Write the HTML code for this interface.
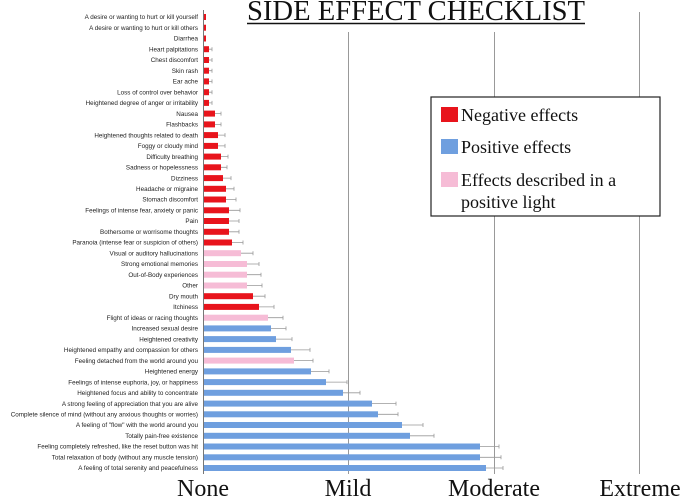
<!DOCTYPE html>
<html><head><meta charset="utf-8"><style>body{margin:0;background:#fff}svg{display:block}</style></head><body>
<svg width="680" height="498" xmlns="http://www.w3.org/2000/svg">
<rect width="680" height="498" fill="#fff"/>
<text x="247" y="20" font-family="Liberation Serif, serif" font-size="29" textLength="338" lengthAdjust="spacingAndGlyphs" fill="#111">SIDE EFFECT CHECKLIST</text>
<line x1="247" y1="23.5" x2="585" y2="23.5" stroke="#111" stroke-width="1.5"/>
<g stroke="#999" stroke-width="1">
<line x1="348.5" y1="32" x2="348.5" y2="474"/>
<line x1="494.5" y1="32" x2="494.5" y2="474"/>
<line x1="639.5" y1="12" x2="639.5" y2="474"/>
</g>
<line x1="203.5" y1="10" x2="203.5" y2="474" stroke="#777"/>
<g font-family="Liberation Sans, sans-serif" font-size="6.3" fill="#222" text-anchor="end">
<g transform="translate(0,17)"><rect x="204" y="-3" width="2" height="6" fill="#e8141c"/><text x="198" y="2.2">A desire or wanting to hurt or kill yourself</text></g>
<g transform="translate(0,27.7)"><rect x="204" y="-3" width="2" height="6" fill="#e8141c"/><text x="198" y="2.2">A desire or wanting to hurt or kill others</text></g>
<g transform="translate(0,38.5)"><rect x="204" y="-3" width="2" height="6" fill="#e8141c"/><text x="198" y="2.2">Diarrhea</text></g>
<g transform="translate(0,49.2)"><rect x="204" y="-3" width="5" height="6" fill="#e8141c"/><path d="M209 0H212M212 -2V2" stroke="#999" stroke-width="0.8"/><text x="198" y="2.2">Heart palpitations</text></g>
<g transform="translate(0,60)"><rect x="204" y="-3" width="5" height="6" fill="#e8141c"/><path d="M209 0H212M212 -2V2" stroke="#999" stroke-width="0.8"/><text x="198" y="2.2">Chest discomfort</text></g>
<g transform="translate(0,70.7)"><rect x="204" y="-3" width="5" height="6" fill="#e8141c"/><path d="M209 0H212M212 -2V2" stroke="#999" stroke-width="0.8"/><text x="198" y="2.2">Skin rash</text></g>
<g transform="translate(0,81.4)"><rect x="204" y="-3" width="5" height="6" fill="#e8141c"/><path d="M209 0H212M212 -2V2" stroke="#999" stroke-width="0.8"/><text x="198" y="2.2">Ear ache</text></g>
<g transform="translate(0,92.2)"><rect x="204" y="-3" width="5" height="6" fill="#e8141c"/><path d="M209 0H212M212 -2V2" stroke="#999" stroke-width="0.8"/><text x="198" y="2.2">Loss of control  over behavior</text></g>
<g transform="translate(0,102.9)"><rect x="204" y="-3" width="5" height="6" fill="#e8141c"/><path d="M209 0H212M212 -2V2" stroke="#999" stroke-width="0.8"/><text x="198" y="2.2">Heightened degree of anger or irritability</text></g>
<g transform="translate(0,113.6)"><rect x="204" y="-3" width="11" height="6" fill="#e8141c"/><path d="M215 0H221M221 -2V2" stroke="#999" stroke-width="0.8"/><text x="198" y="2.2">Nausea</text></g>
<g transform="translate(0,124.4)"><rect x="204" y="-3" width="11" height="6" fill="#e8141c"/><path d="M215 0H221M221 -2V2" stroke="#999" stroke-width="0.8"/><text x="198" y="2.2">Flashbacks</text></g>
<g transform="translate(0,135.1)"><rect x="204" y="-3" width="14" height="6" fill="#e8141c"/><path d="M218 0H225M225 -2V2" stroke="#999" stroke-width="0.8"/><text x="198" y="2.2">Heightened thoughts related to death</text></g>
<g transform="translate(0,145.9)"><rect x="204" y="-3" width="14" height="6" fill="#e8141c"/><path d="M218 0H225M225 -2V2" stroke="#999" stroke-width="0.8"/><text x="198" y="2.2">Foggy or cloudy mind</text></g>
<g transform="translate(0,156.6)"><rect x="204" y="-3" width="17" height="6" fill="#e8141c"/><path d="M221 0H228M228 -2V2" stroke="#999" stroke-width="0.8"/><text x="198" y="2.2">Difficulty breathing</text></g>
<g transform="translate(0,167.3)"><rect x="204" y="-3" width="17" height="6" fill="#e8141c"/><path d="M221 0H227M227 -2V2" stroke="#999" stroke-width="0.8"/><text x="198" y="2.2">Sadness or hopelessness</text></g>
<g transform="translate(0,178.1)"><rect x="204" y="-3" width="19" height="6" fill="#e8141c"/><path d="M223 0H231M231 -2V2" stroke="#999" stroke-width="0.8"/><text x="198" y="2.2">Dizziness</text></g>
<g transform="translate(0,188.8)"><rect x="204" y="-3" width="22" height="6" fill="#e8141c"/><path d="M226 0H234M234 -2V2" stroke="#999" stroke-width="0.8"/><text x="198" y="2.2">Headache or migraine</text></g>
<g transform="translate(0,199.5)"><rect x="204" y="-3" width="22" height="6" fill="#e8141c"/><path d="M226 0H236M236 -2V2" stroke="#999" stroke-width="0.8"/><text x="198" y="2.2">Stomach discomfort</text></g>
<g transform="translate(0,210.3)"><rect x="204" y="-3" width="25" height="6" fill="#e8141c"/><path d="M229 0H240M240 -2V2" stroke="#999" stroke-width="0.8"/><text x="198" y="2.2">Feelings of intense fear, anxiety or panic</text></g>
<g transform="translate(0,221)"><rect x="204" y="-3" width="25" height="6" fill="#e8141c"/><path d="M229 0H239M239 -2V2" stroke="#999" stroke-width="0.8"/><text x="198" y="2.2">Pain</text></g>
<g transform="translate(0,231.8)"><rect x="204" y="-3" width="25" height="6" fill="#e8141c"/><path d="M229 0H239M239 -2V2" stroke="#999" stroke-width="0.8"/><text x="198" y="2.2">Bothersome or worrisome thoughts</text></g>
<g transform="translate(0,242.5)"><rect x="204" y="-3" width="28" height="6" fill="#e8141c"/><path d="M232 0H243M243 -2V2" stroke="#999" stroke-width="0.8"/><text x="198" y="2.2">Paranoia (intense fear or suspicion of others)</text></g>
<g transform="translate(0,253.2)"><rect x="204" y="-3" width="37" height="6" fill="#f6bcd6"/><path d="M241 0H253M253 -2V2" stroke="#999" stroke-width="0.8"/><text x="198" y="2.2">Visual or auditory hallucinations</text></g>
<g transform="translate(0,264)"><rect x="204" y="-3" width="43" height="6" fill="#f6bcd6"/><path d="M247 0H259M259 -2V2" stroke="#999" stroke-width="0.8"/><text x="198" y="2.2">Strong emotional memories</text></g>
<g transform="translate(0,274.7)"><rect x="204" y="-3" width="43" height="6" fill="#f6bcd6"/><path d="M247 0H261M261 -2V2" stroke="#999" stroke-width="0.8"/><text x="198" y="2.2">Out-of-Body experiences</text></g>
<g transform="translate(0,285.5)"><rect x="204" y="-3" width="43" height="6" fill="#f6bcd6"/><path d="M247 0H262M262 -2V2" stroke="#999" stroke-width="0.8"/><text x="198" y="2.2">Other</text></g>
<g transform="translate(0,296.2)"><rect x="204" y="-3" width="49" height="6" fill="#e8141c"/><path d="M253 0H265M265 -2V2" stroke="#999" stroke-width="0.8"/><text x="198" y="2.2">Dry mouth</text></g>
<g transform="translate(0,306.9)"><rect x="204" y="-3" width="55" height="6" fill="#e8141c"/><path d="M259 0H274M274 -2V2" stroke="#999" stroke-width="0.8"/><text x="198" y="2.2">Itchiness</text></g>
<g transform="translate(0,317.7)"><rect x="204" y="-3" width="64" height="6" fill="#f6bcd6"/><path d="M268 0H283M283 -2V2" stroke="#999" stroke-width="0.8"/><text x="198" y="2.2">Flight of ideas or racing thoughts</text></g>
<g transform="translate(0,328.4)"><rect x="204" y="-3" width="67" height="6" fill="#6f9fdf"/><path d="M271 0H286M286 -2V2" stroke="#999" stroke-width="0.8"/><text x="198" y="2.2">Increased sexual desire</text></g>
<g transform="translate(0,339.1)"><rect x="204" y="-3" width="72" height="6" fill="#6f9fdf"/><path d="M276 0H292M292 -2V2" stroke="#999" stroke-width="0.8"/><text x="198" y="2.2">Heightened creativity</text></g>
<g transform="translate(0,349.9)"><rect x="204" y="-3" width="87" height="6" fill="#6f9fdf"/><path d="M291 0H310M310 -2V2" stroke="#999" stroke-width="0.8"/><text x="198" y="2.2">Heightened empathy and compassion for others</text></g>
<g transform="translate(0,360.6)"><rect x="204" y="-3" width="90" height="6" fill="#f6bcd6"/><path d="M294 0H313M313 -2V2" stroke="#999" stroke-width="0.8"/><text x="198" y="2.2">Feeling detached from the world around you</text></g>
<g transform="translate(0,371.4)"><rect x="204" y="-3" width="107" height="6" fill="#6f9fdf"/><path d="M311 0H329M329 -2V2" stroke="#999" stroke-width="0.8"/><text x="198" y="2.2">Heightened energy</text></g>
<g transform="translate(0,382.1)"><rect x="204" y="-3" width="122" height="6" fill="#6f9fdf"/><path d="M326 0H347M347 -2V2" stroke="#999" stroke-width="0.8"/><text x="198" y="2.2">Feelings of intense euphoria, joy, or happiness</text></g>
<g transform="translate(0,392.8)"><rect x="204" y="-3" width="139" height="6" fill="#6f9fdf"/><path d="M343 0H360M360 -2V2" stroke="#999" stroke-width="0.8"/><text x="198" y="2.2">Heightened focus and ability to concentrate</text></g>
<g transform="translate(0,403.6)"><rect x="204" y="-3" width="168" height="6" fill="#6f9fdf"/><path d="M372 0H396M396 -2V2" stroke="#999" stroke-width="0.8"/><text x="198" y="2.2">A strong feeling of appreciation that you are alive</text></g>
<g transform="translate(0,414.3)"><rect x="204" y="-3" width="174" height="6" fill="#6f9fdf"/><path d="M378 0H398M398 -2V2" stroke="#999" stroke-width="0.8"/><text x="198" y="2.2">Complete silence of mind (without any anxious thoughts or worries)</text></g>
<g transform="translate(0,425)"><rect x="204" y="-3" width="198" height="6" fill="#6f9fdf"/><path d="M402 0H423M423 -2V2" stroke="#999" stroke-width="0.8"/><text x="198" y="2.2">A feeling of "flow" with the world around you</text></g>
<g transform="translate(0,435.8)"><rect x="204" y="-3" width="206" height="6" fill="#6f9fdf"/><path d="M410 0H434M434 -2V2" stroke="#999" stroke-width="0.8"/><text x="198" y="2.2">Totally pain-free existence</text></g>
<g transform="translate(0,446.5)"><rect x="204" y="-3" width="276" height="6" fill="#6f9fdf"/><path d="M480 0H499M499 -2V2" stroke="#999" stroke-width="0.8"/><text x="198" y="2.2">Feeling completely  refreshed, like the reset button was hit</text></g>
<g transform="translate(0,457.3)"><rect x="204" y="-3" width="276" height="6" fill="#6f9fdf"/><path d="M480 0H501M501 -2V2" stroke="#999" stroke-width="0.8"/><text x="198" y="2.2">Total relaxation of body (without any muscle tension)</text></g>
<g transform="translate(0,468)"><rect x="204" y="-3" width="282" height="6" fill="#6f9fdf"/><path d="M486 0H503M503 -2V2" stroke="#999" stroke-width="0.8"/><text x="198" y="2.2">A feeling of total serenity and peacefulness</text></g>
</g>
<rect x="431" y="97" width="229" height="119" fill="#fff" stroke="#222" stroke-width="1.2"/>
<rect x="441" y="107" width="17" height="15" fill="#e8141c"/>
<rect x="441" y="139" width="17" height="15" fill="#6f9fdf"/>
<rect x="441" y="172" width="17" height="15" fill="#f6bcd6"/>
<g font-family="Liberation Serif, serif" font-size="18" fill="#111">
<text x="461" y="121">Negative effects</text>
<text x="461" y="153">Positive effects</text>
<text x="461" y="186">Effects described in a</text>
<text x="461" y="208">positive light</text>
</g>
<g font-family="Liberation Serif, serif" font-size="24" fill="#111" text-anchor="middle">
<text x="203" y="496">None</text>
<text x="348" y="496">Mild</text>
<text x="494" y="496">Moderate</text>
<text x="640" y="496">Extreme</text>
</g>
</svg>
</body></html>
